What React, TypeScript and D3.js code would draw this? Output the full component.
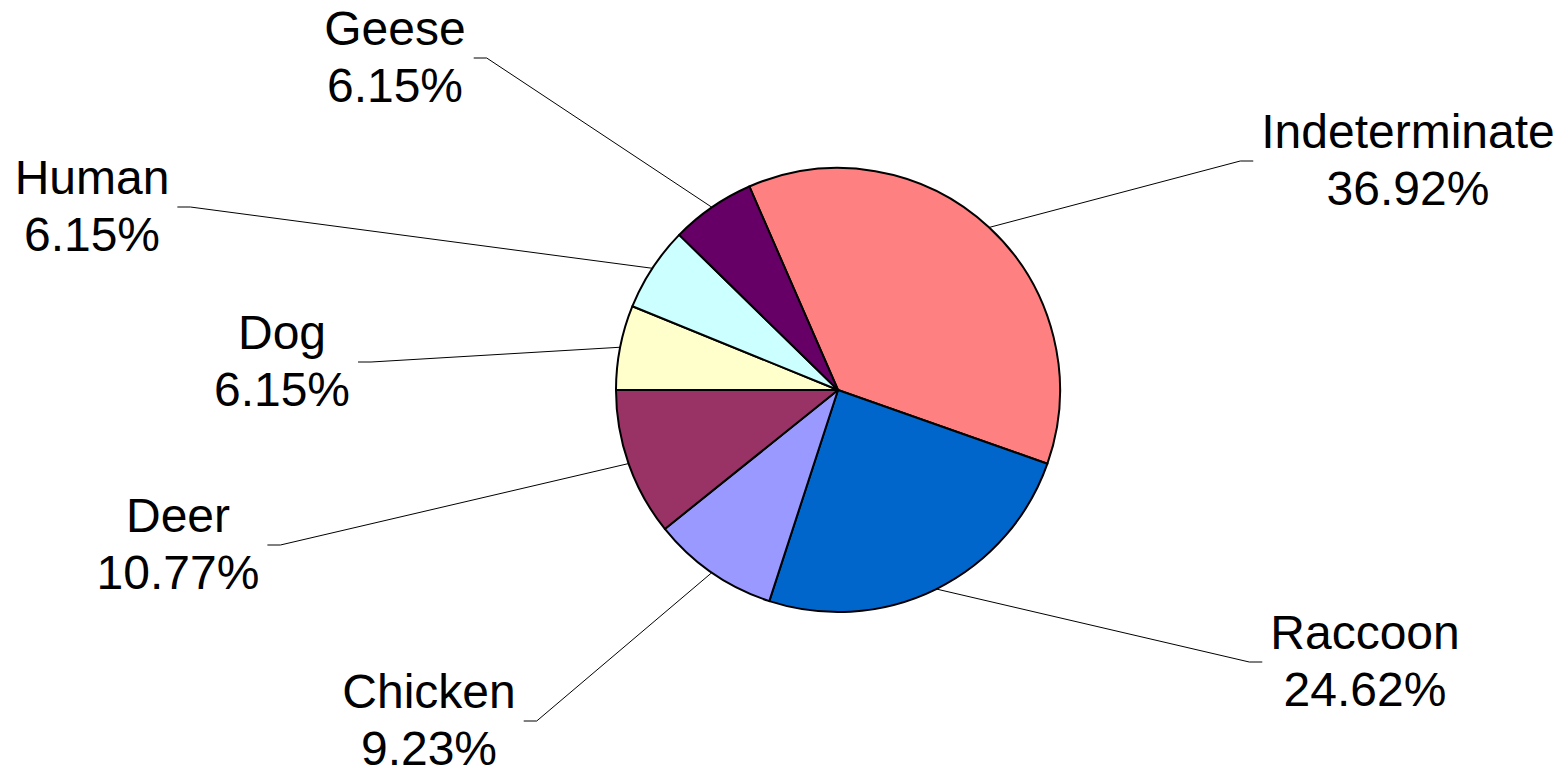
import * as d3 from "d3";

// slice data, clockwise from the top-left
const categories = ["Indeterminate", "Raccoon", "Chicken", "Deer", "Dog", "Human", "Geese"];
const shares = [36.92, 24.62, 9.23, 10.77, 6.15, 6.15, 6.15];
const colors = ["#ff8080", "#0066cc", "#9999ff", "#993366", "#ffffcc", "#ccffff", "#660066"];

// where each label block sits (centre of the two-line block), in page px
const labelAt: [number, number][] = [
  [1408, 161],
  [1365, 662],
  [429, 721],
  [178, 545],
  [282, 362],
  [92, 207],
  [395, 58],
];

const W = 1564;
const H = 772;
const cx = 838;
const cy = 390;
const R = 222;
const FONT = "Liberation Sans, Arial, sans-serif";
const FS = 48;

let ctx: CanvasRenderingContext2D | null = null;
function textW(s: string) {
  if (!ctx) ctx = document.createElement("canvas").getContext("2d");
  if (!ctx) return s.length * FS * 0.55;
  ctx.font = `${FS}px ${FONT}`;
  return ctx.measureText(s).width;
}

export default function App() {
  const start = (-23.54 * Math.PI) / 180;
  const pie = d3
    .pie<number>()
    .sort(null)
    .value((d) => d)
    .startAngle(start)
    .endAngle(start + 2 * Math.PI);
  const arcs = pie(shares);
  const arc = d3.arc<d3.PieArcDatum<number>>().innerRadius(0).outerRadius(R);
  const edge = d3.arc<d3.PieArcDatum<number>>().innerRadius(R).outerRadius(R);

  return (
    <svg
      width={W}
      height={H}
      style={{ position: "absolute", left: 0, top: 0, background: "#fff" }}
      fontFamily={FONT}
    >
      <g transform={`translate(${cx},${cy})`}>
        {arcs.map((a, i) => (
          <path key={i} d={arc(a) || ""} fill={colors[i]} stroke="#000" strokeWidth={2} strokeLinejoin="round" />
        ))}
      </g>

      {arcs.map((a, i) => {
        const [ex, ey] = edge.centroid(a);
        const [lx, ly] = labelAt[i];
        const pct = shares[i].toFixed(2) + "%";
        const half = Math.max(textW(categories[i]), textW(pct)) / 2;
        const right = lx > cx;
        const tip = right ? lx - half - 8 : lx + half + 8;
        const elbow = right ? tip - 13 : tip + 13;
        return (
          <g key={i}>
            <polyline
              points={`${cx + ex},${cy + ey} ${elbow},${ly} ${tip},${ly}`}
              fill="none"
              stroke="#000"
              strokeWidth={1}
            />
            <text x={lx} y={ly - 13} fontSize={FS} textAnchor="middle" fill="#000">
              {categories[i]}
            </text>
            <text x={lx} y={ly + 44} fontSize={FS} textAnchor="middle" fill="#000">
              {pct}
            </text>
          </g>
        );
      })}
    </svg>
  );
}
